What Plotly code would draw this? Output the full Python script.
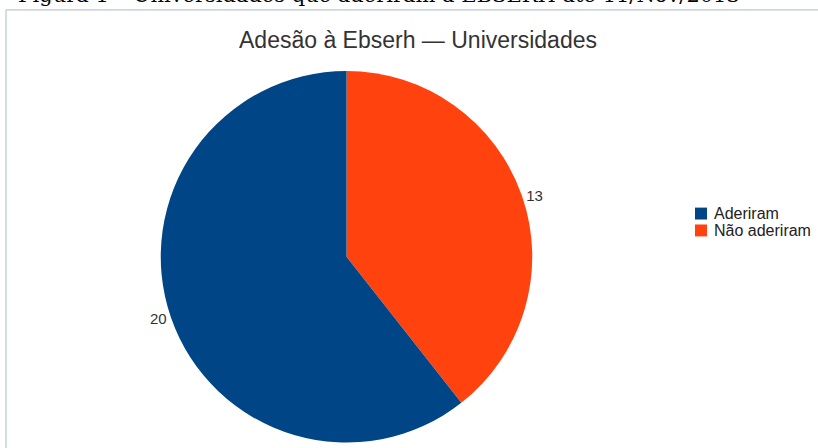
import plotly.graph_objects as go

labels = ["Aderiram", "Não aderiram"]
values = [20, 13]
colors = ["#004586", "#ff420e"]
title_text = "Adesão à Ebserh — Universidades"
caption_text = "Figura 1 – Universidades que aderiram à EBSERH até 11/Nov/2013"

W, H = 818, 448
cx, cy, r = 346.5, 258.5, 187

# slices drawn clockwise from 12 o'clock: "Não aderiram" on the right, "Aderiram" on the left
fig = go.Figure(go.Pie(
    labels=labels[::-1],
    values=values[::-1],
    marker=dict(colors=colors[::-1], line=dict(width=0)),
    sort=False,
    direction="clockwise",
    rotation=0,
    textposition="outside",
    texttemplate="%{value}",
    textfont=dict(family="Liberation Sans", size=15, color="#333333"),
    hoverinfo="label+value",
    showlegend=False,
    domain=dict(x=[(cx - r) / W, (cx + r) / W], y=[(H - cy - r) / H, (H - cy + r) / H]),
))

# legend drawn from the labels/colors lists
leg_x0, leg_y0, leg_dy, sq = 695, 215, 17, 12
shapes = [dict(
    type="rect", xref="paper", yref="paper",
    x0=6 / W, x1=(W + 20) / W, y0=-20 / H, y1=1 - 10 / H,
    line=dict(color="#a9b9c9", width=1), fillcolor="rgba(0,0,0,0)", layer="below",
)]
annotations = [
    dict(text=title_text, x=418 / W, y=1 - 40 / H, xref="paper", yref="paper",
         xanchor="center", yanchor="middle", showarrow=False,
         font=dict(family="Liberation Sans", size=23, color="#333333")),
    dict(text=caption_text, x=16 / W, y=1 + 5 / H, xref="paper", yref="paper",
         xanchor="left", yanchor="middle", showarrow=False,
         font=dict(family="DejaVu Serif", size=21, color="#000000")),
]
for i, (lab, col) in enumerate(zip(labels, colors)):
    yc = leg_y0 + i * leg_dy
    shapes.append(dict(
        type="rect", xref="paper", yref="paper",
        x0=leg_x0 / W, x1=(leg_x0 + sq) / W,
        y0=1 - (yc + sq / 2) / H, y1=1 - (yc - sq / 2) / H,
        line=dict(width=0), fillcolor=col,
    ))
    annotations.append(dict(
        text=lab, x=(leg_x0 + sq + 5) / W, y=1 - yc / H, xref="paper", yref="paper",
        xanchor="left", yanchor="middle", showarrow=False,
        font=dict(family="Liberation Sans", size=16, color="#222222"),
    ))

fig.update_layout(
    width=W, height=H, autosize=False,
    margin=dict(l=0, r=0, t=0, b=0),
    paper_bgcolor="white",
    plot_bgcolor="white",
    showlegend=False,
    shapes=shapes,
    annotations=annotations,
)

fig.write_html("out.html")
